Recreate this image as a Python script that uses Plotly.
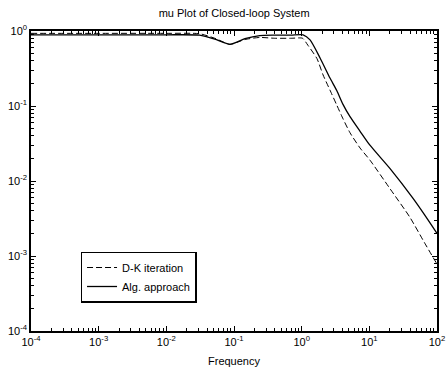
import plotly.graph_objects as go

# Data (frequency, mu upper bound)
freq_alg = [1e-4, 1e-3, 1e-2, 0.031, 0.052, 0.087, 0.145, 0.24, 0.4, 0.7, 1.05,
            1.33, 1.87, 2.62, 3.3, 4.08, 5.18, 7.3, 10.2, 20.4, 44.0, 66.0, 100.0]
mu_alg = [0.89, 0.89, 0.89, 0.88, 0.78, 0.665, 0.79, 0.87, 0.88, 0.88, 0.89,
          0.76, 0.437, 0.236, 0.161, 0.105, 0.072, 0.046, 0.030, 0.0145, 0.0059,
          0.0035, 0.0020]

freq_dk = [1e-4, 1e-3, 1e-2, 0.031, 0.052, 0.087, 0.145, 0.24, 0.4, 0.7, 1.03,
           1.23, 1.68, 2.07, 2.62, 3.3, 4.1, 5.18, 7.3, 10.2, 20.4, 39.6, 66.0, 100.0]
mu_dk = [0.93, 0.93, 0.93, 0.92, 0.80, 0.665, 0.77, 0.82, 0.80, 0.80, 0.80,
         0.65, 0.43, 0.26, 0.163, 0.103, 0.067, 0.044, 0.0275, 0.019, 0.0078,
         0.0033, 0.00148, 0.00078]

series_names = ["D-K iteration", "Alg. approach"]
title = "mu Plot of Closed-loop System"
xlabel = "Frequency"

x_major = [1e-4, 1e-3, 1e-2, 1e-1, 1e0, 1e1, 1e2]
x_ticktext = ["10<sup>-4</sup>", "10<sup>-3</sup>", "10<sup>-2</sup>", "10<sup>-1</sup>",
              "10<sup>0</sup>", "10<sup>1</sup>", "10<sup>2</sup>"]
y_major = [1e-4, 1e-3, 1e-2, 1e-1, 1e0]
y_ticktext = ["10<sup>-4</sup>", "10<sup>-3</sup>", "10<sup>-2</sup>", "10<sup>-1</sup>",
              "10<sup>0</sup>"]

x_minor = [k * 10.0 ** e for e in range(-4, 2) for k in range(2, 10)]
y_minor = [k * 10.0 ** e for e in range(-4, 0) for k in range(2, 10)]

fig = go.Figure()
fig.add_trace(go.Scatter(x=freq_dk, y=mu_dk, mode="lines", name=series_names[0],
                         line=dict(color="black", width=1, dash="6px,3px",
                                   shape="spline", smoothing=0.6)))
fig.add_trace(go.Scatter(x=freq_alg, y=mu_alg, mode="lines", name=series_names[1],
                         line=dict(color="black", width=1.3,
                                   shape="spline", smoothing=0.6)))

font = dict(family="Liberation Sans, Arial, sans-serif", size=11, color="black")

fig.update_layout(
    width=446, height=372,
    margin=dict(l=31, r=9, t=31, b=41),
    paper_bgcolor="white", plot_bgcolor="white",
    font=font,
    title=dict(text=title, x=0.525, xanchor="center", y=0.975, yanchor="top",
               font=dict(size=11)),
    showlegend=True,
    legend=dict(x=0.122, y=0.265, xanchor="left", yanchor="top",
                bordercolor="black", borderwidth=1.5, bgcolor="white",
                font=dict(size=11), tracegroupgap=0, itemwidth=30),
)
fig.update_xaxes(
    type="log", range=[-4, 2], showgrid=False, zeroline=False, automargin=False,
    showline=True, linecolor="black", linewidth=1.5, mirror="ticks",
    ticks="inside", ticklen=5, tickcolor="black", tickwidth=1,
    tickmode="array", tickvals=x_major, ticktext=x_ticktext,
    tickfont=dict(size=11),
    minor=dict(ticks="inside", ticklen=3, tickcolor="black", tickwidth=1,
               tickvals=x_minor, showgrid=False),
    title=dict(text=xlabel, standoff=10, font=dict(size=11)),
)
fig.update_yaxes(
    type="log", range=[-4, 0], showgrid=False, zeroline=False, automargin=False,
    showline=True, linecolor="black", linewidth=1.5, mirror="ticks",
    ticks="inside", ticklen=5, tickcolor="black", tickwidth=1,
    tickmode="array", tickvals=y_major, ticktext=y_ticktext,
    tickfont=dict(size=11),
    minor=dict(ticks="inside", ticklen=3, tickcolor="black", tickwidth=1,
               tickvals=y_minor, showgrid=False),
)

fig.write_html("out.html")
